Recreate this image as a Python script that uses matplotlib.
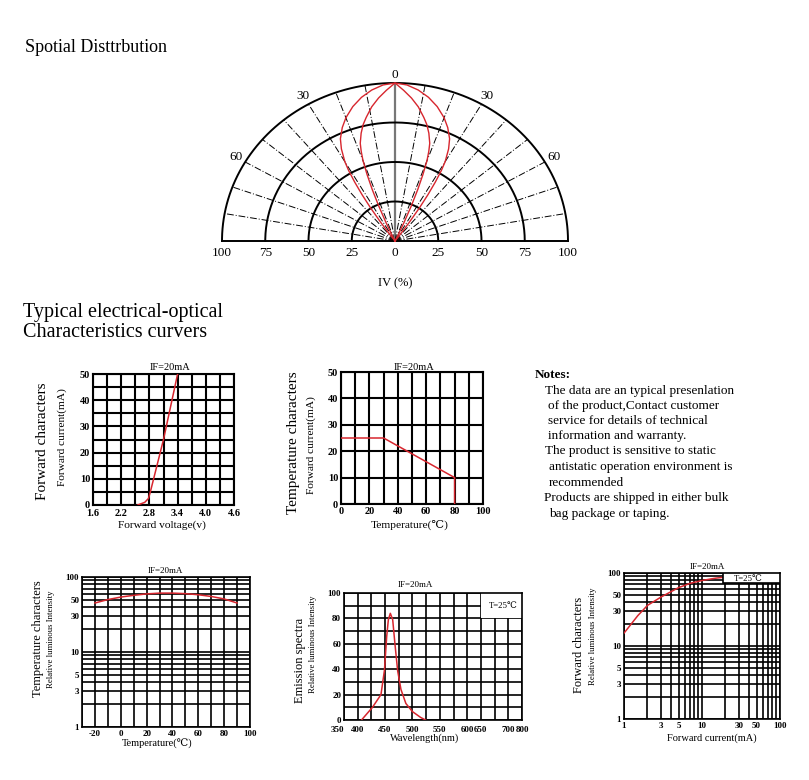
import numpy as np
import matplotlib
matplotlib.use('Agg')
import matplotlib.pyplot as plt
from matplotlib.ticker import FixedLocator, NullFormatter, LogLocator, MultipleLocator
from matplotlib.patches import Rectangle

plt.rcParams['font.family'] = ['Liberation Serif', 'DejaVu Serif', 'Noto Sans CJK SC']
plt.rcParams['axes.unicode_minus'] = False

W, H = 809, 780
RED = '#d7262e'

# --- spatial distribution (angle in degrees, relative intensity %) ---
outer_deg = [0, 4, 8, 12, 16, 20, 23, 26, 28, 30, 31, 32, 33, 34, 35, 36, 37]
outer_iv = [100, 99, 96.5, 93, 88.5, 83, 78, 72, 66, 58, 52, 44, 35, 25, 14, 5, 0]
inner_deg = [0, 3, 6, 9, 12, 14, 16, 18, 19, 20, 21, 22, 23, 24, 25, 26]
inner_iv = [100, 95.5, 91, 86, 80, 76, 71, 65, 60, 54, 45, 35, 24, 13, 4, 0]
ring_levels = [25, 50, 75, 100]
spoke_deg = list(range(-80, 90, 10))
iv_tick_pos = [-100, -75, -50, -25, 0, 25, 50, 75, 100]
iv_tick_lab = ['100', '75', '50', '25', '0', '25', '50', '75', '100']

# --- forward voltage vs forward current ---
fv_volt = [2.55, 2.7, 2.78, 2.82, 3.1, 3.4]
fv_ma = [0, 1, 2.5, 5, 25, 50]
fv_ticks = [1.6, 2.2, 2.8, 3.4, 4.0, 4.6]
fv_grid = [1.6, 1.9, 2.2, 2.5, 2.8, 3.1, 3.4, 3.7, 4.0, 4.3, 4.6]

# --- temperature vs forward current (derating) ---
td_temp = [0, 30, 80, 80]
td_ma = [25, 25, 10, 0]

# --- temperature vs relative luminous intensity ---
tl_temp = [-20, -10, 0, 10, 20, 30, 40, 50, 60, 70, 80, 90]
tl_rel = [45, 50, 54, 57, 59.5, 61, 61, 60, 58, 55, 51, 45]
log_ticks = [1, 3, 5, 10, 30, 50, 100]

# --- emission spectrum ---
wl_grid = [350, 400, 425, 450, 475, 500, 525, 550, 575, 600, 650, 675, 700, 800]
wl_ticks = [350, 400, 450, 500, 550, 600, 650, 700, 800]
sp_nm = [407, 427, 442.5, 448.8, 453, 456, 459.6, 463.9, 468, 472.9, 479, 488, 500, 515, 524]
sp_rel = [0, 10, 20, 39, 66, 79, 84, 79, 60, 39, 24, 13, 6.6, 2, 0]

# --- forward current vs relative luminous intensity ---
fc_ma = [1, 1.5, 2, 3, 5, 7, 10, 15, 20]
fc_rel = [15, 26, 36, 47, 63, 72, 79, 85, 88]

notes = [
    ('Notes:', 535, 375, 'bold'),
    ('The data are an typical presenlation', 545, 391, 'normal'),
    ('of the product,Contact customer', 548, 406, 'normal'),
    ('service for details of technical', 548, 421, 'normal'),
    ('information and warranty.', 548, 436, 'normal'),
    ('The product is sensitive to static', 545, 451, 'normal'),
    ('antistatic operation environment is', 549, 467, 'normal'),
    ('recommended', 549, 483, 'normal'),
    ('Products are shipped in either bulk', 544, 498, 'normal'),
    ('bag package or taping.', 549, 514, 'normal'),
]

fig = plt.figure(figsize=(W / 100, H / 100), dpi=100)


def px_box(l, t, r, b):
    return [l / W, 1 - b / H, (r - l) / W, (b - t) / H]


def ftext(x, y, s, **kw):
    kw.setdefault('ha', 'center')
    kw.setdefault('va', 'center')
    fig.text(x / W, 1 - y / H, s, **kw)


def style(ax, fs, lw):
    for s in ax.spines.values():
        s.set_linewidth(lw)
    ax.tick_params(which='both', length=0, labelsize=fs, pad=2)
    for lab in ax.get_xticklabels() + ax.get_yticklabels():
        lab.set_fontweight('bold')
    ax.grid(which='both', color='black', lw=lw)
    ax.set_axisbelow(True)


# section titles
ftext(25, 52, 'Spotial Disttrbution', ha='left', va='baseline', fontsize=13)
ftext(23, 317, 'Typical electrical-optical', ha='left', va='baseline', fontsize=14.5)
ftext(23, 337, 'Characteristics curvers', ha='left', va='baseline', fontsize=14.5)

# ---------------- spatial distribution ----------------
axp = fig.add_axes(px_box(222, 83, 568, 241))
axp.set_xlim(-100, 100)
axp.set_ylim(0, 100)
axp.axis('off')
th = np.linspace(0, np.pi, 200)
for a in spoke_deg:
    t = np.radians(a)
    if a == 0:
        axp.plot([0, 0], [0, 100], color='#777777', lw=1.6)
    else:
        axp.plot([0, 100 * np.sin(t)], [0, 100 * np.cos(t)], color='black',
                 lw=0.7, ls=(0, (7, 2, 1, 2)))
for r in ring_levels:
    axp.plot(r * np.cos(th), r * np.sin(th), color='black', lw=1.4, clip_on=False)
axp.plot([-100, 100], [0, 0], color='black', lw=1.4, clip_on=False)
for deg, iv in [(outer_deg, outer_iv), (inner_deg, inner_iv)]:
    d = np.array(deg, float)
    v = np.array(iv, float)
    ang = np.radians(np.r_[-d[::-1], d[1:]])
    rr = np.r_[v[::-1], v[1:]]
    axp.plot(rr * np.sin(ang), rr * np.cos(ang), color=RED, lw=1.0, clip_on=False)
for p, lab in zip(iv_tick_pos, iv_tick_lab):
    axp.text(p, -7.6, lab, ha='center', va='center', fontsize=9.5)
axp.text(0, 105, '0', ha='center', va='center', fontsize=9.5)
for a in [-60, -30, 30, 60]:
    t = np.radians(a)
    axp.text(106 * np.sin(t), 106 * np.cos(t), str(abs(a)), ha='center',
             va='center', fontsize=9.5)
ftext(395, 283, 'IV (%)', fontsize=9)

# ---------------- forward voltage ----------------
axA = fig.add_axes(px_box(93, 374, 234, 505))
axA.plot(fv_volt, fv_ma, color=RED, lw=1.1, zorder=3)
axA.set_xlim(1.6, 4.6)
axA.set_ylim(0, 50)
axA.set_xticks(fv_ticks)
axA.set_xticklabels(['%.1f' % v for v in fv_ticks])
axA.xaxis.set_minor_locator(FixedLocator(fv_grid))
axA.set_yticks(range(0, 51, 10))
axA.yaxis.set_minor_locator(MultipleLocator(5))
style(axA, 7.5, 1.5)
axA.tick_params(axis='x', pad=3)
ftext(170, 367, 'IF=20mA', fontsize=7.5)
ftext(43, 441, 'Forward characters', rotation=90, fontsize=11)
ftext(62, 437, 'Forward current(mA)', rotation=90, fontsize=8.2)
ftext(162, 525, 'Forward voltage(v)', fontsize=8.2)

# ---------------- temperature derating ----------------
axB = fig.add_axes(px_box(341, 372, 483, 504))
axB.plot(td_temp, td_ma, color=RED, lw=1.1, zorder=3)
axB.set_xlim(0, 100)
axB.set_ylim(0, 50)
axB.set_xticks(range(0, 101, 20))
axB.xaxis.set_minor_locator(MultipleLocator(10))
axB.set_yticks(range(0, 51, 10))
style(axB, 7.5, 1.5)
ftext(414, 367, 'IF=20mA', fontsize=7.5)
ftext(293, 443, 'Temperature characters', rotation=90, fontsize=11)
ftext(311, 445, 'Forward current(mA)', rotation=90, fontsize=8.2)
ftext(410, 525, 'Temperature(\u2103)', fontsize=8.2)

# notes
for s, x, y, w in notes:
    ftext(x, y, s, ha='left', fontsize=9.5, fontweight=w)

# ---------------- temperature vs luminous intensity ----------------
axC = fig.add_axes(px_box(82, 577, 250, 727))
axC.plot(tl_temp, tl_rel, color=RED, lw=1.1, zorder=3)
axC.set_yscale('log')
axC.set_xlim(-30, 100)
axC.set_ylim(1, 100)
axC.set_xticks(range(-20, 101, 20))
axC.xaxis.set_minor_locator(MultipleLocator(10))
axC.set_yticks(log_ticks)
axC.set_yticklabels([str(v) for v in log_ticks])
axC.yaxis.set_minor_locator(LogLocator(base=10, subs=np.arange(2, 10)))
axC.yaxis.set_minor_formatter(NullFormatter())
style(axC, 6.5, 1.2)
ftext(165, 571, 'IF=20mA', fontsize=6.5)
ftext(38, 639, 'Temperature characters', rotation=90, fontsize=9)
ftext(51, 639, 'Relative luminous Intensity', rotation=90, fontsize=6.3)
ftext(157, 744, 'Temperature(\u2103)', fontsize=7.5)

# ---------------- emission spectrum ----------------
grid_idx = np.arange(len(wl_grid))
axD = fig.add_axes(px_box(344, 593, 522, 720))
axD.set_xscale('function', functions=(lambda x: np.interp(x, wl_grid, grid_idx),
                                      lambda i: np.interp(i, grid_idx, wl_grid)))
axD.plot(sp_nm, sp_rel, color=RED, lw=1.1, zorder=3)
axD.set_xlim(350, 800)
axD.set_ylim(0, 100)
axD.xaxis.set_major_locator(FixedLocator(wl_ticks))
axD.set_xticklabels([str(v) for v in wl_ticks])
axD.xaxis.set_minor_locator(FixedLocator(wl_grid))
axD.xaxis.set_minor_formatter(NullFormatter())
axD.set_yticks(range(0, 101, 20))
axD.yaxis.set_minor_locator(MultipleLocator(10))
style(axD, 6.5, 1.2)
axD.tick_params(axis='x', pad=4)
axD.get_xticklabels()[0].set_horizontalalignment('right')
axD.add_patch(Rectangle((0.77, 0.805), 0.23, 0.195, transform=axD.transAxes,
                        facecolor='white', edgecolor='none', zorder=1))
ftext(415, 585, 'IF=20mA', fontsize=6.5)
ftext(503, 606, 'T=25\u2103', fontsize=6.3)
ftext(300, 660, 'Emission spectra', rotation=90, fontsize=9)
ftext(313, 644, 'Relative luminous Intensity', rotation=90, fontsize=6.3)
ftext(425, 738, 'Wavelength(nm)', fontsize=7.5)

# ---------------- forward current vs luminous intensity ----------------
axE = fig.add_axes(px_box(624, 573, 780, 719))
axE.plot(fc_ma, fc_rel, color=RED, lw=1.1, zorder=3)
axE.set_xscale('log')
axE.set_yscale('log')
axE.set_xlim(1, 100)
axE.set_ylim(1, 100)
for axis in [axE.xaxis, axE.yaxis]:
    axis.set_major_locator(FixedLocator(log_ticks))
    axis.set_minor_locator(LogLocator(base=10, subs=np.arange(2, 10)))
    axis.set_minor_formatter(NullFormatter())
axE.set_xticklabels([str(v) for v in log_ticks])
axE.set_yticklabels([str(v) for v in log_ticks])
style(axE, 6.5, 1.2)
axE.add_patch(Rectangle((0.637, 0.93), 0.363, 0.07, transform=axE.transAxes,
                        facecolor='white', edgecolor='black', lw=1.2, zorder=4))
ftext(707, 567, 'IF=20mA', fontsize=6.5)
ftext(748, 579, 'T=25\u2103', fontsize=6.3, zorder=5)
ftext(579, 645, 'Forward characters', rotation=90, fontsize=9)
ftext(593, 636, 'Relative luminous Intensity', rotation=90, fontsize=6.3)
ftext(712, 738, 'Forward current(mA)', fontsize=7.5)

fig.savefig('out.png', dpi=100)
